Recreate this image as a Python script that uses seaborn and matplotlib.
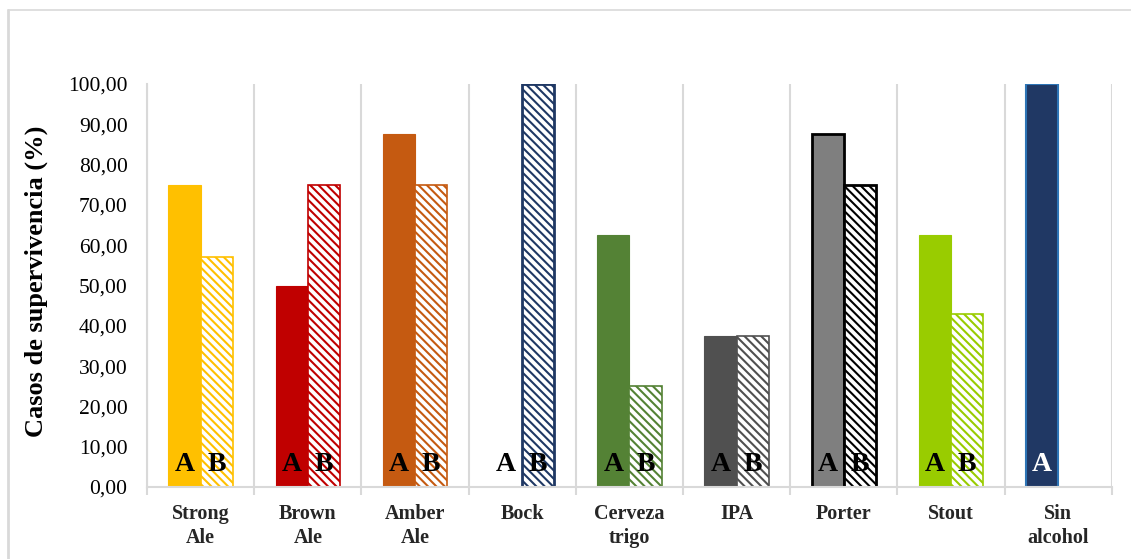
import matplotlib
matplotlib.use("Agg")
import matplotlib.pyplot as plt
from matplotlib.lines import Line2D
from matplotlib.ticker import FuncFormatter, FixedLocator
import seaborn as sns
import pandas as pd

# Survival cases per beer style, groups A and B
categorias = ["Strong\nAle", "Brown\nAle", "Amber\nAle", "Bock", "Cerveza\ntrigo",
              "IPA", "Porter", "Stout", "Sin\nalcohol"]
valores_a = [75.00, 50.00, 87.50, 0.00, 62.50, 37.50, 87.50, 62.50, 100.00]
valores_b = [57.14, 75.00, 75.00, 100.00, 25.00, 37.50, 75.00, 42.86, 0.00]
etiquetas_a = ["A"] * 9
etiquetas_b = ["B"] * 8 + [""]

colores = ["#FFC000", "#C00000", "#C55A11", "#1F3864", "#548235",
           "#505050", "#7F7F7F", "#99CC00", "#203864"]

sns.set_theme(style="white")
plt.rcParams["font.family"] = ["Liberation Serif", "DejaVu Serif"]
plt.rcParams["hatch.linewidth"] = 1.5

df = pd.DataFrame({
    "cerveza": categorias * 2,
    "valor": valores_a + valores_b,
    "grupo": ["A"] * len(categorias) + ["B"] * len(categorias),
})

fig = plt.figure(figsize=(11.31, 5.59), dpi=100)
ax = fig.add_axes([0.130, 0.1288, 0.853, 0.7209])

sns.barplot(data=df, x="cerveza", y="valor", hue="grupo", hue_order=["A", "B"],
            order=categorias, width=0.6, errorbar=None, legend=False, ax=ax,
            saturation=1)

cont_a, cont_b = ax.containers[0], ax.containers[1]
for i, (pa, pb) in enumerate(zip(cont_a, cont_b)):
    c = colores[i]
    pa.set_facecolor(c)
    pa.set_edgecolor(c)
    pa.set_linewidth(0.8)
    pb.set_facecolor("white")
    pb.set_edgecolor(c)
    pb.set_hatch("\\\\\\\\")
    pb.set_linewidth(1.2)

# Special outlines
cont_a[6].set_edgecolor("black")
cont_a[6].set_linewidth(2)
cont_b[6].set_edgecolor("black")
cont_b[6].set_linewidth(2)
cont_b[3].set_linewidth(2)
cont_a[8].set_edgecolor("#2E75B6")
cont_a[8].set_linewidth(1.5)
for p in list(cont_a) + list(cont_b):
    if p.get_height() == 0:
        p.set_linewidth(0)
        p.set_hatch(None)

# Group letters at the base of each bar
for cont, etiquetas in ((cont_a, etiquetas_a), (cont_b, etiquetas_b)):
    for i, (p, t) in enumerate(zip(cont, etiquetas)):
        if not t:
            continue
        col = "white" if i == 8 else "black"
        ax.text(p.get_x() + p.get_width() / 2, 4.0, t, ha="center", va="baseline",
                fontsize=20, fontweight="bold", color=col)

ax.set_ylim(0, 100)
ax.set_xlim(-0.5, len(categorias) - 0.5)
ax.set_yticks(range(0, 101, 10))
ax.yaxis.set_major_formatter(FuncFormatter(lambda v, _: f"{v:.2f}".replace(".", ",")))
ax.tick_params(axis="y", length=0, pad=14, labelsize=15.5, labelcolor="black")
ax.tick_params(axis="x", which="major", length=0, pad=12, labelsize=14.5)
for lab in ax.get_xticklabels():
    lab.set_fontweight("bold")
    lab.set_linespacing(1.3)

# Category separators
ax.xaxis.set_minor_locator(FixedLocator([i - 0.5 for i in range(len(categorias) + 1)]))
ax.tick_params(axis="x", which="minor", length=6, width=1.5, color="#D9D9D9", bottom=True)
ax.grid(True, axis="x", which="minor", color="#D9D9D9", linewidth=1.5)
ax.grid(False, axis="x", which="major")
ax.grid(False, axis="y")
ax.set_axisbelow(True)

for s in ("top", "right"):
    ax.spines[s].set_visible(False)
for s in ("left", "bottom"):
    ax.spines[s].set_color("#D9D9D9")
    ax.spines[s].set_linewidth(1.5)

ax.set_xlabel("")
ax.set_ylabel("Casos de supervivencia (%)", fontsize=19, fontweight="bold", color="black")
ax.yaxis.set_label_coords(-0.1026, 0.51)

# Outer chart frame
fig.add_artist(Line2D([8 / 1131, 8 / 1131], [0, 1 - 10 / 559], transform=fig.transFigure,
                      color="#D9D9D9", linewidth=2))
fig.add_artist(Line2D([8 / 1131, 1], [1 - 10 / 559, 1 - 10 / 559], transform=fig.transFigure,
                      color="#D9D9D9", linewidth=1.2))

fig.savefig("out.png", dpi=100)
